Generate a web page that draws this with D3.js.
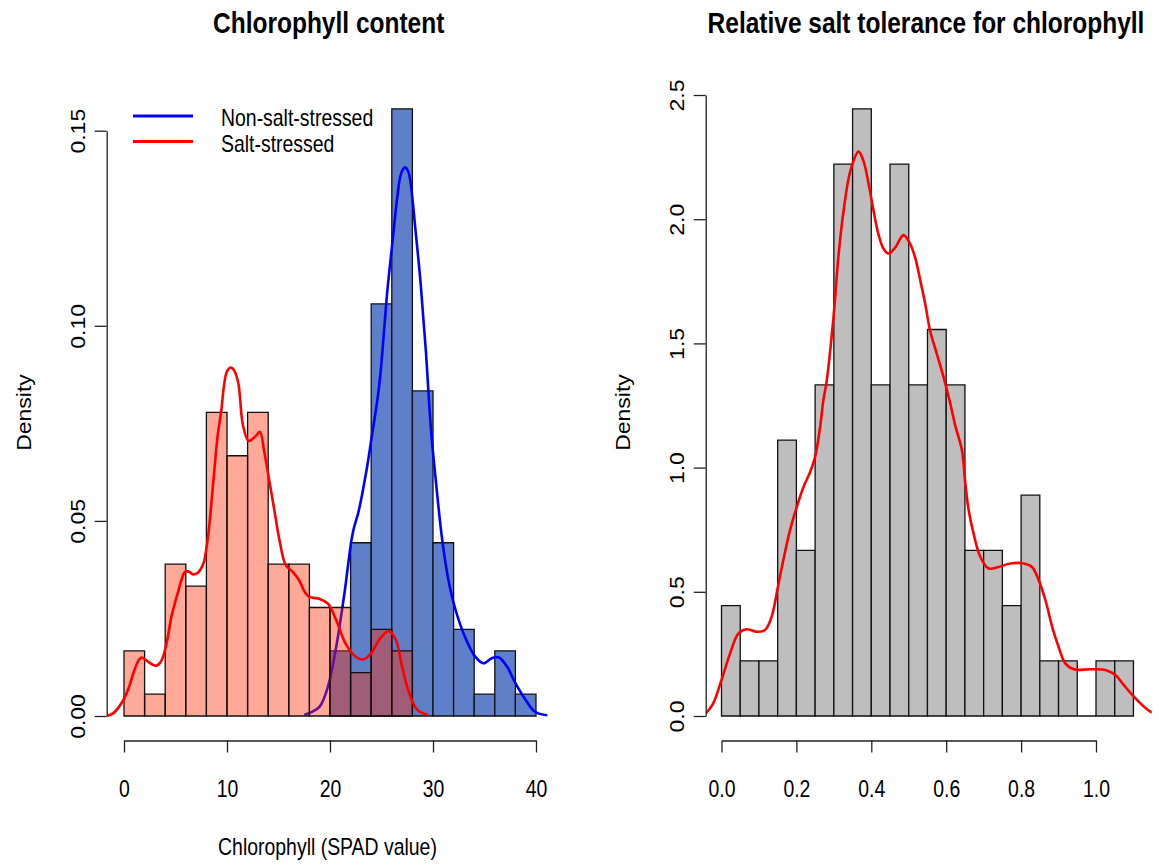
<!DOCTYPE html>
<html>
<head>
<meta charset="utf-8">
<script src="https://cdn.jsdelivr.net/npm/d3@7"></script>
<style>
  body { margin: 0; background: #fff; }
  text { font-family: "Liberation Sans", Arial, sans-serif; fill: #000; }
</style>
</head>
<body>
<svg id="chart" width="1159" height="867"></svg>
<script>
// ---- Chlorophyll content (SPAD), histogram densities, bin width 2 ----
const saltBins = [0, 2, 4, 6, 8, 10, 12, 14, 16, 18, 20, 22, 24, 26];
const saltDensity = [0.0167, 0.0056, 0.0389, 0.0333, 0.0778, 0.0667, 0.0778,
                     0.0389, 0.0389, 0.0278, 0.0278, 0.0111, 0.0222, 0.0167];
const nonSaltBins = [20, 22, 24, 26, 28, 30, 32, 34, 36, 38];
const nonSaltDensity = [0.0167, 0.0444, 0.1056, 0.1556, 0.0833, 0.0444,
                        0.0222, 0.0056, 0.0167, 0.0056];
const chlBinWidth = 2;

// kernel density curves (x = SPAD value, y = density)
const saltCurveX = [-1.63, -1.0, -0.06, 0.5, 0.9, 1.4, 1.7, 2.0, 2.35, 2.8, 3.16, 3.5, 3.8, 4.2, 4.6, 5.0, 5.3, 5.6, 5.9, 6.3,
  6.7, 7.2, 7.7, 8.0, 8.2, 8.5, 8.8, 9.1, 9.45, 9.7, 10.0, 10.38, 10.7, 11.1, 11.55, 12.1, 12.7, 13.2, 13.6, 14.1,
  14.6, 15.1, 15.7, 16.4, 17.0, 17.5, 18.0, 19.0, 19.8, 20.6, 21.5, 22.5, 23.2, 23.97, 24.8, 25.7, 26.4, 27.0, 27.7, 28.5, 29.5];
const saltCurveY = [0, 0.0008, 0.0041, 0.0075, 0.0109, 0.0142, 0.015, 0.0146, 0.0139, 0.0131, 0.0129, 0.0136, 0.0152, 0.0195, 0.0254, 0.0295, 0.0323, 0.035, 0.0369, 0.037,
  0.0363, 0.0368, 0.039, 0.043, 0.0468, 0.055, 0.0638, 0.072, 0.0783, 0.0845, 0.0883, 0.0893, 0.0885, 0.0853, 0.0745, 0.0705, 0.0715, 0.0728, 0.068, 0.0604,
  0.0527, 0.045, 0.0387, 0.0369, 0.0348, 0.032, 0.0305, 0.03, 0.0288, 0.0246, 0.0186, 0.0152, 0.0145, 0.016, 0.0196, 0.0218, 0.0195, 0.0126, 0.0058, 0.0015, 0.0003];

const nonSaltCurveX = [17.5, 18.2, 19.0, 19.8, 20.6, 21.4, 22.2, 22.8, 23.6, 24.1, 24.6, 24.9, 25.57, 26.05, 26.54, 26.9, 27.28, 27.6, 27.83,
  28.3, 28.8, 29.3, 29.8, 30.3, 30.9, 31.5, 32.2, 33.1, 34.1, 34.9, 35.7, 36.4, 37.2, 38.0, 39.0, 39.9, 41.1];
const nonSaltCurveY = [0.0003, 0.001, 0.0024, 0.0075, 0.0177, 0.0314, 0.0468, 0.0527, 0.0638, 0.0724, 0.081, 0.0878, 0.109, 0.1211, 0.1331, 0.139, 0.1406, 0.1395, 0.1365,
  0.1245, 0.1109, 0.0938, 0.0735, 0.0596, 0.045, 0.0348, 0.0271, 0.0203, 0.0152, 0.0135, 0.0148, 0.015, 0.0126, 0.0084, 0.0041, 0.0011, 0.0002];

// ---- Relative salt tolerance, histogram densities, bin width 0.05 ----
const tolBins = [0.00, 0.05, 0.10, 0.15, 0.20, 0.25, 0.30, 0.35, 0.40, 0.45, 0.50,
                 0.55, 0.60, 0.65, 0.70, 0.75, 0.80, 0.85, 0.90, 0.95, 1.00, 1.05];
const tolDensity = [0.444, 0.222, 0.222, 1.111, 0.667, 1.333, 2.222, 2.444, 1.333, 2.222, 1.333,
                    1.556, 1.333, 0.667, 0.667, 0.444, 0.889, 0.222, 0.222, 0, 0.222, 0.222];
const tolBinWidth = 0.05;

const tolCurveX = [-0.041, -0.022, 0.0, 0.023, 0.045, 0.067, 0.094, 0.116, 0.134, 0.149, 0.165, 0.183, 0.201, 0.219, 0.237, 0.25,
  0.263, 0.272, 0.281, 0.299, 0.312, 0.326, 0.344, 0.366, 0.379, 0.393, 0.406, 0.419, 0.433, 0.446, 0.464, 0.486, 0.504, 0.517,
  0.531, 0.544, 0.557, 0.575, 0.593, 0.611, 0.624, 0.642, 0.651, 0.66, 0.673, 0.691, 0.713, 0.74, 0.771, 0.807, 0.829, 0.847,
  0.865, 0.883, 0.9, 0.918, 0.941, 0.985, 1.025, 1.052, 1.074, 1.101, 1.133, 1.146, 1.17];
const tolCurveY = [0.011, 0.051, 0.145, 0.252, 0.332, 0.349, 0.339, 0.346, 0.4, 0.507, 0.627, 0.748, 0.842, 0.922, 0.983, 1.043,
  1.16, 1.271, 1.35, 1.605, 1.846, 2.034, 2.194, 2.272, 2.235, 2.141, 2.034, 1.94, 1.88, 1.862, 1.886, 1.936, 1.9, 1.846,
  1.752, 1.659, 1.551, 1.458, 1.364, 1.257, 1.17, 1.07, 0.936, 0.828, 0.735, 0.641, 0.594, 0.6, 0.614, 0.614, 0.6, 0.547,
  0.466, 0.359, 0.279, 0.212, 0.188, 0.188, 0.185, 0.165, 0.125, 0.078, 0.031, 0.017, 0.005];

// ---- axis ticks and text ----
const chlXTicks = [0, 10, 20, 30, 40];
const chlYTicks = [0, 0.05, 0.10, 0.15];
const tolXTicks = [0, 0.2, 0.4, 0.6, 0.8, 1.0];
const tolYTicks = [0, 0.5, 1.0, 1.5, 2.0, 2.5];
const legendLabels = ["Non-salt-stressed", "Salt-stressed"];

// ---------------------------------------------------------------------------
const SX = 0.845;              // narrow text rendering
const FONT = 23;
const svg = d3.select("#chart");
svg.append("rect").attr("width", 1159).attr("height", 867).attr("fill", "#fff");

const AXIS_Y = 740.5;           // x-axis baseline of both panels

function txt(g, x, y, s, o = {}) {
  const t = g.append("text")
    .attr("transform", `translate(${x},${y}) scale(${SX},1)` + (o.rot ? " rotate(-90)" : ""))
    .attr("text-anchor", o.anchor || "middle")
    .attr("font-size", o.size || FONT)
    .text(s);
  if (o.bold) t.attr("font-weight", "bold");
  return t;
}

function styleAxis(g) {
  g.attr("font-size", FONT).attr("font-family", null);
  g.select(".domain").attr("stroke", "#222").attr("stroke-width", 1.3);
  g.selectAll(".tick line").attr("stroke", "#222").attr("stroke-width", 1.3);
}

function yAxis(g, scale, ticks, fmt, x) {
  const a = g.append("g").attr("transform", `translate(${x},0)`)
    .call(d3.axisLeft(scale).tickValues(ticks).tickFormat(d3.format(fmt)).tickSize(12).tickSizeOuter(0));
  styleAxis(a);
  a.selectAll(".tick text")
    .attr("x", null).attr("dy", null).attr("fill", "#000")
    .attr("text-anchor", "middle")
    .attr("transform", `translate(-22,0) scale(${SX},1) rotate(-90)`);
}

function xAxis(g, scale, ticks, fmt) {
  const a = g.append("g").attr("transform", `translate(0,${AXIS_Y})`)
    .call(d3.axisBottom(scale).tickValues(ticks).tickFormat(d3.format(fmt)).tickSize(12).tickSizeOuter(0));
  styleAxis(a);
  a.selectAll(".tick text")
    .attr("y", null).attr("dy", null).attr("fill", "#000")
    .attr("text-anchor", "middle")
    .attr("transform", `translate(0,56) scale(${SX},1)`);
}

function bars(g, bins, dens, width, x, y, fill) {
  g.append("g").selectAll("path").data(bins).join("path")
    .attr("d", (b, i) => {
      const x0 = x(b), x1 = x(b + width), y0 = y(0), y1 = y(dens[i]);
      return `M${x0},${y0}V${y1}H${x1}V${y0}Z`;
    })
    .attr("fill", fill)
    .attr("stroke", "#111")
    .attr("stroke-width", 1.3);
}

function curve(g, xs, ys, x, y, color, clip) {
  const pts = xs.map((v, i) => [v, ys[i]]);
  g.append("path").datum(pts)
    .attr("d", d3.line().x(d => x(d[0])).y(d => y(d[1])).curve(d3.curveCatmullRom.alpha(0.5)))
    .attr("fill", "none").attr("stroke", color).attr("stroke-width", 2.6)
    .attr("stroke-linejoin", "round")
    .attr("clip-path", `url(#${clip})`);
}

// ===================== Panel 1: Chlorophyll content =====================
const p1 = svg.append("g");
const xL = d3.scaleLinear().domain([0, 40]).range([124, 536]);
const yL = d3.scaleLinear().domain([0, 0.15]).range([716, 130.7]);

svg.append("clipPath").attr("id", "clipL").append("rect")
  .attr("x", 106.7).attr("y", 84).attr("width", 444).attr("height", 657);

bars(p1, nonSaltBins, nonSaltDensity, chlBinWidth, xL, yL, "#5f80c8");
curve(p1, nonSaltCurveX, nonSaltCurveY, xL, yL, "#0000ff", "clipL");
bars(p1, saltBins, saltDensity, chlBinWidth, xL, yL, "rgba(255,40,0,0.40)");
curve(p1, saltCurveX, saltCurveY, xL, yL, "#ff0000", "clipL");

yAxis(p1, yL, chlYTicks, ".2f", 106.7);
xAxis(p1, xL, chlXTicks, "d");

txt(p1, 328.7, 33, "Chlorophyll content", { bold: true, size: 29 });
txt(p1, 327.5, 855, "Chlorophyll (SPAD value)");
txt(p1, 31, 412.5, "Density", { rot: true });

// legend
const legendColors = ["#0000ff", "#ff0000"];
const lg = p1.append("g");
legendLabels.forEach((lab, i) => {
  const yy = 116 + i * 25.5;
  lg.append("line").attr("x1", 133).attr("x2", 193).attr("y1", yy).attr("y2", yy)
    .attr("stroke", legendColors[i]).attr("stroke-width", 2.8);
  txt(lg, 221, yy + 10, lab, { anchor: "start" });
});

// ============ Panel 2: Relative salt tolerance for chlorophyll ============
const p2 = svg.append("g");
const xR = d3.scaleLinear().domain([0, 1]).range([721.5, 1096]);
const yR = d3.scaleLinear().domain([0, 2.5]).range([716, 95]);

svg.append("clipPath").attr("id", "clipR").append("rect")
  .attr("x", 705.7).attr("y", 84).attr("width", 446).attr("height", 657);

bars(p2, tolBins, tolDensity, tolBinWidth, xR, yR, "#bebebe");
curve(p2, tolCurveX, tolCurveY, xR, yR, "#ff0000", "clipR");

yAxis(p2, yR, tolYTicks, ".1f", 705.7);
xAxis(p2, xR, tolXTicks, ".1f");

txt(p2, 926, 33, "Relative salt tolerance for chlorophyll", { bold: true, size: 29 });
txt(p2, 630, 412.5, "Density", { rot: true });
</script>
</body>
</html>
